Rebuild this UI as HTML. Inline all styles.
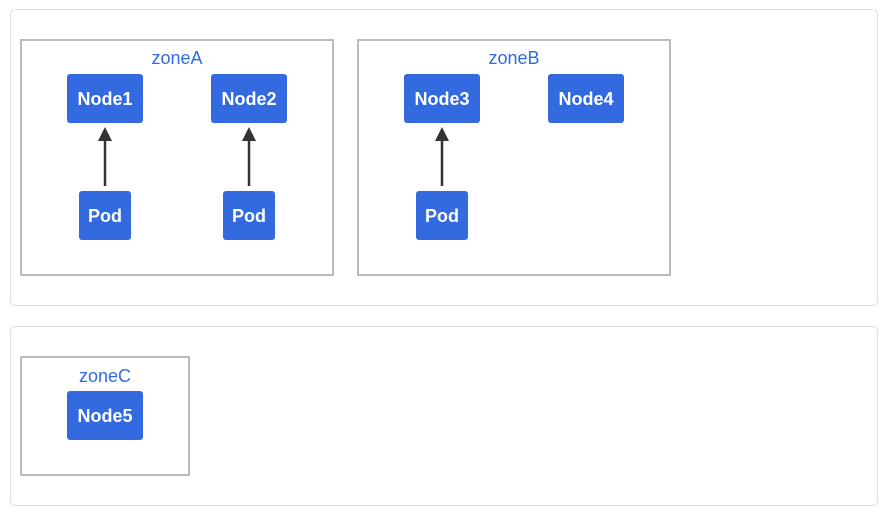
<!DOCTYPE html>
<html><head><style>
html,body{margin:0;padding:0;background:#fff;}
svg{display:block;}
text{font-family:"Liberation Sans",sans-serif;}
</style></head><body>
<svg width="883" height="513" viewBox="0 0 883 513" xmlns="http://www.w3.org/2000/svg">
<rect x="10.5" y="9.5" width="867" height="296" rx="5" fill="#fff" stroke="#e0e0e0"/>
<rect x="10.5" y="326.5" width="867" height="179" rx="5" fill="#fff" stroke="#e0e0e0"/>
<g fill="none" stroke="#bbbbbb" stroke-width="2">
<rect x="21" y="40" width="312" height="235"/>
<rect x="358" y="40" width="312" height="235"/>
<rect x="21" y="357" width="168" height="118"/>
</g>
<g fill="#336ae0" font-size="18" text-anchor="middle">
<text x="177" y="64">zoneA</text>
<text x="514" y="64">zoneB</text>
<text x="105" y="382">zoneC</text>
</g>
<g fill="#336ae0">
<rect x="67" y="74" width="76" height="49" rx="3"/>
<rect x="211" y="74" width="76" height="49" rx="3"/>
<rect x="404" y="74" width="76" height="49" rx="3"/>
<rect x="548" y="74" width="76" height="49" rx="3"/>
<rect x="67" y="391" width="76" height="49" rx="3"/>
<rect x="79" y="191" width="52" height="49" rx="3"/>
<rect x="223" y="191" width="52" height="49" rx="3"/>
<rect x="416" y="191" width="52" height="49" rx="3"/>
</g>
<g fill="#fff" font-size="18" font-weight="bold" text-anchor="middle">
<text x="105" y="105">Node1</text>
<text x="249" y="105">Node2</text>
<text x="442" y="105">Node3</text>
<text x="586" y="105">Node4</text>
<text x="105" y="422">Node5</text>
<text x="105" y="222">Pod</text>
<text x="249" y="222">Pod</text>
<text x="442" y="222">Pod</text>
</g>
<g stroke="#333" stroke-width="2.5">
<line x1="105" y1="186" x2="105" y2="138"/>
<line x1="249" y1="186" x2="249" y2="138"/>
<line x1="442" y1="186" x2="442" y2="138"/>
</g>
<g fill="#333">
<polygon points="105,127 98,141 112,141"/>
<polygon points="249,127 242,141 256,141"/>
<polygon points="442,127 435,141 449,141"/>
</g>
</svg>
</body></html>
